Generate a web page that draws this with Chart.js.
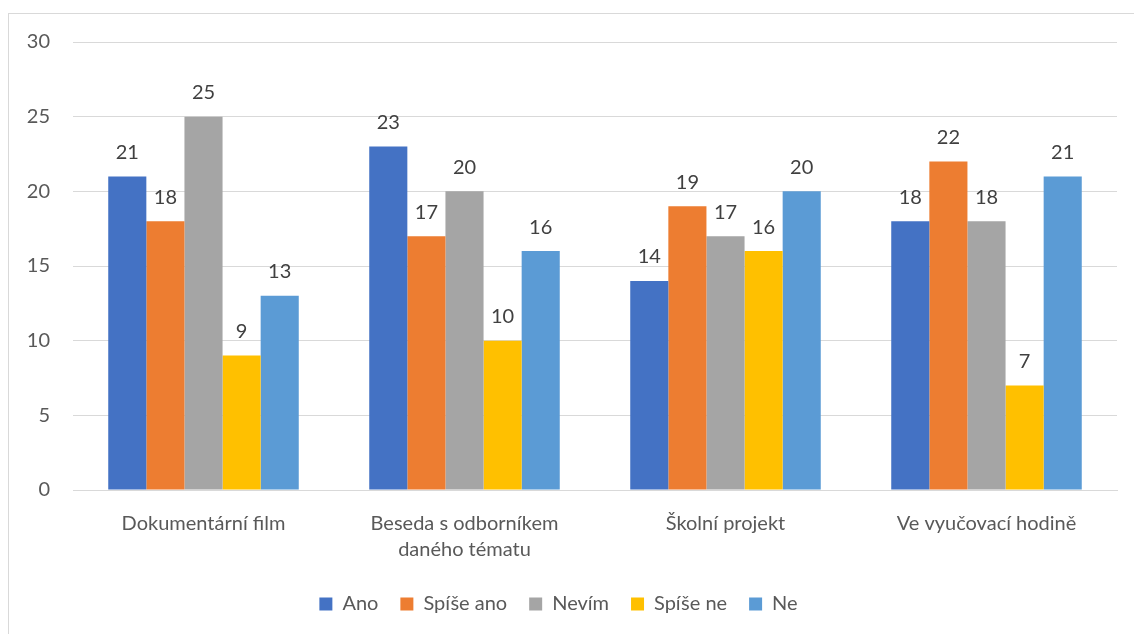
<!DOCTYPE html>
<html>
<head>
<meta charset="utf-8">
<script src="https://cdn.jsdelivr.net/npm/chart.js@4"></script>
<style>
  html, body { margin: 0; padding: 0; background: #fff; overflow: hidden; }
  #wrap { position: relative; width: 1134px; height: 634px; }
  #frame { position: absolute; left: 8px; top: 13px; width: 1200px; height: 700px; border: 1px solid #d9d9d9; }
  canvas { position: absolute; left: 0; top: 0; }
</style>
</head>
<body>
<div id="wrap">
  <div id="frame"></div>
  <canvas id="graf" width="1134" height="634"></canvas>
</div>
<script>
const kategorie = ['Dokumentární film', ['Beseda s odborníkem', 'daného tématu'], 'Školní projekt', 'Ve vyučovací hodině'];
const ano = [21, 23, 14, 18];
const spiseAno = [18, 17, 19, 22];
const nevim = [25, 20, 17, 18];
const spiseNe = [9, 10, 16, 7];
const ne = [13, 16, 20, 21];

const pisma = 'Lato, "Open Sans", sans-serif';

// popisky hodnot nad sloupci
const hodnoty = {
    id: 'hodnoty',
    afterDatasetsDraw(chart) {
        const c = chart.ctx;
        c.save();
        c.fillStyle = '#404040';
        c.font = '20px ' + pisma;
        c.textAlign = 'center';
        c.textBaseline = 'middle';
        chart.data.datasets.forEach((ds, i) => {
            chart.getDatasetMeta(i).data.forEach((el, j) => {
                c.fillText(ds.data[j], el.x, el.y - 24);
            });
        });
        c.restore();
    }
};

new Chart(document.getElementById('graf'), {
    type: 'bar',
    data: {
        labels: kategorie,
        datasets: [
            { label: 'Ano', data: ano, backgroundColor: '#4472C4' },
            { label: 'Spíše ano', data: spiseAno, backgroundColor: '#ED7D31' },
            { label: 'Nevím', data: nevim, backgroundColor: '#A5A5A5' },
            { label: 'Spíše ne', data: spiseNe, backgroundColor: '#FFC000' },
            { label: 'Ne', data: ne, backgroundColor: '#5B9BD5' }
        ]
    },
    options: {
        responsive: false,
        animation: false,
        datasets: { bar: { categoryPercentage: 0.73, barPercentage: 1 } },
        layout: { padding: { top: 42, right: 17, bottom: 10, left: 0 } },
        plugins: {
            tooltip: { enabled: false },
            legend: {
                position: 'bottom',
                labels: {
                    boxWidth: 13,
                    boxHeight: 13,
                    padding: 22,
                    color: '#595959',
                    font: { size: 20, family: pisma }
                }
            }
        },
        scales: {
            x: {
                grid: { display: false },
                border: { color: '#d9d9d9' },
                ticks: {
                    color: '#595959',
                    padding: 13,
                    maxRotation: 0,
                    font: { size: 20, family: pisma, lineHeight: 1.3 }
                },
                afterFit: function(scale) { scale.height = 82; }
            },
            y: {
                min: 0,
                max: 30,
                grid: { color: '#d9d9d9', drawTicks: false },
                border: { display: false },
                ticks: {
                    stepSize: 5,
                    color: '#595959',
                    padding: 23,
                    font: { size: 20, family: pisma }
                },
                afterFit: function(scale) { scale.width = 73; }
            }
        }
    },
    plugins: [hodnoty]
});
</script>
</body>
</html>
